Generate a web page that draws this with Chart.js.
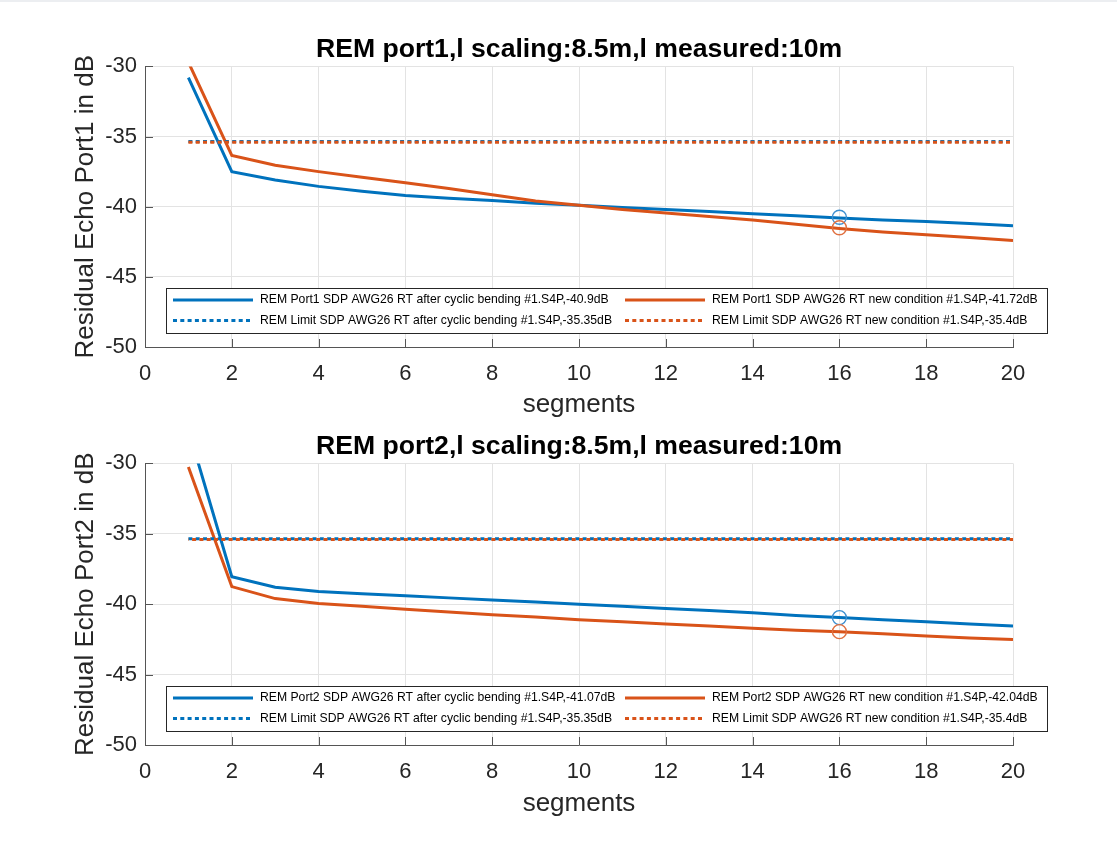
<!DOCTYPE html>
<html><head><meta charset="utf-8">
<script src="https://cdn.jsdelivr.net/npm/chart.js@4/dist/chart.umd.min.js"></script>
<style>
html,body{margin:0;padding:0;background:#fff;width:1117px;height:841px;overflow:hidden}
#topband{position:absolute;left:0;top:0;width:1117px;height:2px;background:#eceef1}
#c1{position:absolute;left:0;top:0}
#c2{position:absolute;left:0;top:420px}
</style></head><body>
<canvas id="c1" width="1117" height="420"></canvas>
<canvas id="c2" width="1117" height="421"></canvas>
<div id="topband"></div>
<script>
// ---------- data ----------
const segments = [1,2,3,4,5,6,7,8,9,10,11,12,13,14,15,16,17,18,19,20];
const xTicks = [0,2,4,6,8,10,12,14,16,18,20];
const yTicks = [-50,-45,-40,-35,-30];

const port1After = [-30.8,-37.5,-38.1,-38.55,-38.9,-39.2,-39.4,-39.55,-39.75,-39.9,-40.05,-40.2,-40.35,-40.5,-40.65,-40.8,-40.95,-41.05,-41.2,-41.35];
const port1New   = [-29.7,-36.35,-37.05,-37.5,-37.9,-38.3,-38.7,-39.15,-39.6,-39.9,-40.2,-40.45,-40.7,-40.95,-41.25,-41.55,-41.8,-42.0,-42.2,-42.4];
const port2After = [-27.6,-38.05,-38.8,-39.1,-39.25,-39.4,-39.55,-39.7,-39.85,-40.0,-40.15,-40.3,-40.45,-40.6,-40.8,-40.95,-41.1,-41.25,-41.4,-41.55];
const port2New   = [-30.25,-38.75,-39.6,-39.95,-40.15,-40.35,-40.55,-40.75,-40.9,-41.1,-41.25,-41.4,-41.55,-41.7,-41.85,-41.95,-42.1,-42.25,-42.4,-42.5];

const limitX = [1,20];
const limitAfter = [-35.35,-35.35];
const limitNew   = [-35.4,-35.4];

const markerX = 16;
const port1Markers = [-40.75,-41.5];
const port2Markers = [-40.95,-41.95];

const titles = ['REM port1,l scaling:8.5m,l measured:10m','REM port2,l scaling:8.5m,l measured:10m'];
const yTitles = ['Residual Echo Port1 in dB','Residual Echo Port2 in dB'];
const xTitle = 'segments';
const labels1 = ['REM Port1 SDP AWG26 RT after cyclic bending #1.S4P,-40.9dB','REM Port1 SDP AWG26 RT new condition #1.S4P,-41.72dB','REM Limit SDP AWG26 RT after cyclic bending #1.S4P,-35.35dB','REM Limit SDP AWG26 RT new condition #1.S4P,-35.4dB'];
const labels2 = ['REM Port2 SDP AWG26 RT after cyclic bending #1.S4P,-41.07dB','REM Port2 SDP AWG26 RT new condition #1.S4P,-42.04dB','REM Limit SDP AWG26 RT after cyclic bending #1.S4P,-35.35dB','REM Limit SDP AWG26 RT new condition #1.S4P,-35.4dB'];

// ---------- styling ----------
const BLUE = '#0072BD', ORANGE = '#D95319';
const TXT = '#262626';
Chart.defaults.font.family = "'Liberation Sans', Arial, Helvetica, sans-serif";
Chart.defaults.color = TXT;

const pts = (xs, ys) => xs.map((x, i) => ({x: x, y: ys[i]}));

const legendPlugin = {
  id: 'matLegend',
  afterDraw(chart, args, opts) {
    const ctx = chart.ctx, ca = chart.chartArea;
    const L = opts.left, R = opts.right;
    const B = ca.bottom - opts.bottomGap, T = B - opts.height;
    ctx.save();
    ctx.fillStyle = '#fff';
    ctx.fillRect(L, T, R - L, B - T);
    ctx.strokeStyle = '#262626'; ctx.lineWidth = 1;
    ctx.strokeRect(Math.round(L) + 0.5, Math.round(T) + 0.5, R - L, B - T);
    const ds = chart.data.datasets;
    const items = [[0,0,0],[1,1,0],[2,0,1],[3,1,1]];
    ctx.font = "12.2px 'Liberation Sans', Arial, sans-serif";
    ctx.textBaseline = 'middle';
    ctx.textAlign = 'left';
    items.forEach(([di, col, row]) => {
      const d = ds[di];
      const x0 = L + (col ? opts.col2 : opts.col1);
      const y = T + opts.row1 + row * opts.rowGap;
      ctx.beginPath();
      ctx.strokeStyle = d.borderColor;
      ctx.lineWidth = 3;
      ctx.setLineDash(d.borderDash || []);
      ctx.moveTo(x0, y); ctx.lineTo(x0 + 80, y);
      ctx.stroke();
      ctx.setLineDash([]);
      ctx.fillStyle = '#000';
      ctx.fillText(d.label, x0 + 87, y);
    });
    ctx.restore();
  }
};

const inwardTicks = {
  id: 'inwardTicks',
  afterDatasetsDraw(chart) {
    const ctx = chart.ctx, ca = chart.chartArea;
    const xs = chart.scales.x, ys = chart.scales.y;
    ctx.save();
    ctx.strokeStyle = '#555'; ctx.lineWidth = 1;
    ctx.beginPath();
    xTicks.forEach(v => { const px = Math.round(xs.getPixelForValue(v)) + 0.5; ctx.moveTo(px, ca.bottom); ctx.lineTo(px, ca.bottom - 8); });
    yTicks.forEach(v => { const py = Math.round(ys.getPixelForValue(v)) + 0.5; ctx.moveTo(ca.left, py); ctx.lineTo(ca.left + 8, py); });
    ctx.stroke();
    ctx.restore();
  }
};

function build(id, title, yTitle, after, fresh, markers, labels, geo) {
  const datasets = [
    {label: labels[0], data: pts(segments, after), borderColor: BLUE, borderWidth: 3, pointRadius: 0, tension: 0, order: 6},
    {label: labels[1], data: pts(segments, fresh), borderColor: ORANGE, borderWidth: 3, pointRadius: 0, tension: 0, order: 5},
    {label: labels[2], data: pts(limitX, limitAfter), borderColor: BLUE, borderWidth: 3, borderDash: [4, 3.3], pointRadius: 0, order: 4},
    {label: labels[3], data: pts(limitX, limitNew), borderColor: ORANGE, borderWidth: 3, borderDash: [4, 3.3], borderDashOffset: geo.dashOff, pointRadius: 0, order: 3},
    {label: 'marker after', data: [{x: markerX, y: markers[0]}], showLine: false, pointRadius: 7, pointStyle: 'circle', borderColor: '#3d8fd0', borderWidth: 1.4, backgroundColor: 'rgba(0,0,0,0)', order: 2},
    {label: 'marker new', data: [{x: markerX, y: markers[1]}], showLine: false, pointRadius: 7, pointStyle: 'circle', borderColor: '#e07040', borderWidth: 1.4, backgroundColor: 'rgba(0,0,0,0)', order: 1}
  ];
  return new Chart(document.getElementById(id), {
    type: 'line',
    data: {datasets},
    plugins: [inwardTicks, legendPlugin],
    options: {
      responsive: false, animation: false, devicePixelRatio: 1,
      layout: {padding: {left: 0, right: 104, top: 0, bottom: 0}},
      plugins: {
        legend: {display: false},
        tooltip: {enabled: false},
        title: {display: true, text: title, fullSize: false, color: '#000',
          font: {size: 26.6, weight: 'bold'}, padding: {top: geo.titleTop, bottom: geo.titleBottom}},
        matLegend: {left: 166, right: 1047, bottomGap: 14, height: 45, col1: 7, col2: 459, row1: 12, rowGap: 20.5}
      },
      scales: {
        x: {type: 'linear', min: 0, max: 20,
          afterBuildTicks: s => { s.ticks = xTicks.map(v => ({value: v})); },
          ticks: {font: {size: 22}, color: TXT, padding: 14, maxRotation: 0},
          grid: {color: '#e3e3e3', drawTicks: false},
          border: {color: '#555', width: 1},
          title: {display: true, text: xTitle, font: {size: 26}, color: TXT, padding: {top: 0, bottom: geo.xTitleBottom}},
          afterFit: s => { s.height = geo.xH; s.paddingLeft = 0; s.paddingRight = 0; }
        },
        y: {type: 'linear', min: -50, max: -30,
          afterBuildTicks: s => { s.ticks = yTicks.map(v => ({value: v})); },
          ticks: {font: {size: 22}, color: TXT, padding: 8},
          grid: {color: '#e3e3e3', drawTicks: false},
          border: {color: '#555', width: 1},
          title: {display: true, text: yTitle, font: {size: 26}, color: TXT, padding: {top: 70, bottom: 0}},
          afterFit: s => { s.width = 145; s.paddingTop = 0; s.paddingBottom = 0; }
        }
      }
    }
  });
}

build('c1', titles[0], yTitles[0], port1After, port1New, port1Markers, labels1,
  {titleTop: 34, titleBottom: 0.5, xH: 73, xTitleBottom: 0, dashOff: 0});
build('c2', titles[1], yTitles[1], port2After, port2New, port2Markers, labels2,
  {titleTop: 11, titleBottom: 0.5, xH: 96, xTitleBottom: 22, dashOff: 3.6});
</script>
</body></html>
